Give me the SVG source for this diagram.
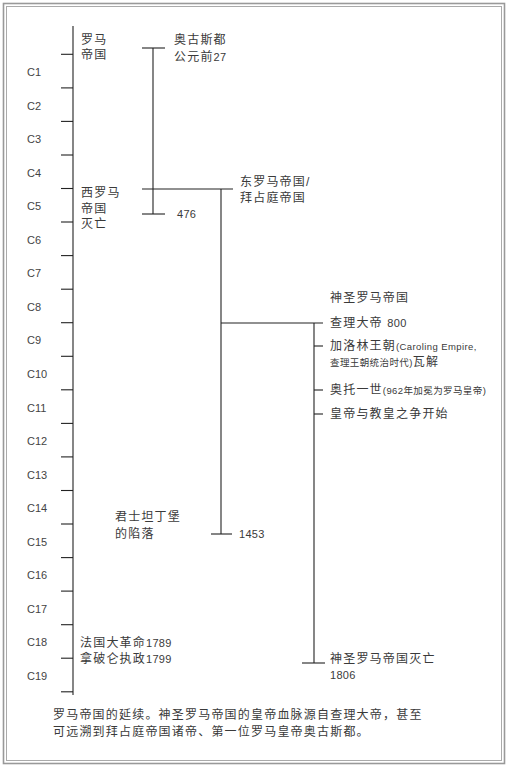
<svg xmlns="http://www.w3.org/2000/svg" width="509" height="768" viewBox="0 0 509 768">
<style>
text{font-family:"Liberation Sans","Noto Sans CJK SC",sans-serif;fill:#3a3a3a;}
.zh{font-size:12px;letter-spacing:1.2px;}
.sm{font-size:9.5px;letter-spacing:0.4px;}
.lat{font-size:11px;letter-spacing:0.3px;}
.c{font-size:11px;fill:#444;}
line{stroke:#222;stroke-width:1.1;}
</style>
<rect x="0" y="0" width="509" height="768" fill="#fff"/>
<rect x="3.5" y="3.5" width="501" height="760" fill="none" stroke="#999" stroke-width="1.6"/>
<rect x="6.5" y="6.5" width="495" height="754" fill="none" stroke="#aaa" stroke-width="1"/>

<g id="axis">
<line x1="73" y1="26" x2="73" y2="695"/>
<line x1="61" y1="54.3" x2="73" y2="54.3"/>
<line x1="61" y1="87.9" x2="73" y2="87.9"/>
<line x1="61" y1="121.4" x2="73" y2="121.4"/>
<line x1="61" y1="155" x2="73" y2="155"/>
<line x1="61" y1="188.5" x2="73" y2="188.5"/>
<line x1="61" y1="222" x2="73" y2="222"/>
<line x1="61" y1="255.6" x2="73" y2="255.6"/>
<line x1="61" y1="289.2" x2="73" y2="289.2"/>
<line x1="61" y1="322.7" x2="73" y2="322.7"/>
<line x1="61" y1="356.3" x2="73" y2="356.3"/>
<line x1="61" y1="389.8" x2="73" y2="389.8"/>
<line x1="61" y1="423.4" x2="73" y2="423.4"/>
<line x1="61" y1="456.9" x2="73" y2="456.9"/>
<line x1="61" y1="490.5" x2="73" y2="490.5"/>
<line x1="61" y1="524" x2="73" y2="524"/>
<line x1="61" y1="557.6" x2="73" y2="557.6"/>
<line x1="61" y1="591.1" x2="73" y2="591.1"/>
<line x1="61" y1="624.7" x2="73" y2="624.7"/>
<line x1="61" y1="658.2" x2="73" y2="658.2"/>
<line x1="61" y1="691.8" x2="73" y2="691.8"/>
<text class="c" x="27" y="76">C1</text>
<text class="c" x="27" y="109.6">C2</text>
<text class="c" x="27" y="143.1">C3</text>
<text class="c" x="27" y="176.7">C4</text>
<text class="c" x="27" y="210.2">C5</text>
<text class="c" x="27" y="243.8">C6</text>
<text class="c" x="27" y="277.3">C7</text>
<text class="c" x="27" y="310.9">C8</text>
<text class="c" x="27" y="344.4">C9</text>
<text class="c" x="27" y="378">C10</text>
<text class="c" x="27" y="411.5">C11</text>
<text class="c" x="27" y="445.1">C12</text>
<text class="c" x="27" y="478.6">C13</text>
<text class="c" x="27" y="512.2">C14</text>
<text class="c" x="27" y="545.7">C15</text>
<text class="c" x="27" y="579.3">C16</text>
<text class="c" x="27" y="612.8">C17</text>
<text class="c" x="27" y="646.4">C18</text>
<text class="c" x="27" y="679.9">C19</text>
</g>

<g id="connectors">
<line x1="153" y1="48" x2="153" y2="214"/>
<line x1="142" y1="48" x2="165" y2="48"/>
<line x1="142" y1="214" x2="165" y2="214"/>
<line x1="142" y1="189" x2="233" y2="189"/>
<line x1="221" y1="189" x2="221" y2="534"/>
<line x1="211" y1="534" x2="232" y2="534"/>
<line x1="221" y1="323" x2="323" y2="323"/>
<line x1="314" y1="323" x2="314" y2="663"/>
<line x1="302" y1="663" x2="325" y2="663"/>
<line x1="314" y1="346" x2="323" y2="346"/>
<line x1="314" y1="390" x2="323" y2="390"/>
<line x1="314" y1="414" x2="323" y2="414"/>
</g>

<g id="roman-empire">
<text class="zh" x="81" y="44">罗马</text>
<text class="zh" x="81" y="59">帝国</text>
</g>
<g id="augustus">
<text class="zh" x="174" y="44">奥古斯都</text>
<text class="zh" x="174" y="61">公元前<tspan class="lat">27</tspan></text>
</g>
<g id="byzantine">
<text class="zh" x="240" y="186">东罗马帝国/</text>
<text class="zh" x="240" y="202">拜占庭帝国</text>
</g>
<g id="west-fall">
<text class="zh" x="81" y="197">西罗马</text>
<text class="zh" x="81" y="213">帝国</text>
<text class="zh" x="81" y="228">灭亡</text>
<text class="lat" x="177" y="218">476</text>
</g>
<g id="holy-roman">
<text class="zh" x="330" y="302">神圣罗马帝国</text>
</g>
<g id="charlemagne">
<text class="zh" x="330" y="327">查理大帝 <tspan class="lat">800</tspan></text>
</g>
<g id="carolingian">
<text class="zh" x="330" y="350">加洛林王朝<tspan class="sm">(Caroling Empire,</tspan></text>
<text class="zh" x="330" y="366"><tspan class="sm">查理王朝统治时代)</tspan>瓦解</text>
</g>
<g id="otto">
<text class="zh" x="330" y="394">奥托一世<tspan class="sm">(962年加冕为罗马皇帝)</tspan></text>
</g>
<g id="investiture">
<text class="zh" x="330" y="418">皇帝与教皇之争开始</text>
</g>
<g id="constantinople">
<text class="zh" x="115" y="521">君士坦丁堡</text>
<text class="zh" x="115" y="538">的陷落</text>
<text class="lat" x="239" y="538">1453</text>
</g>
<g id="french-revolution">
<text class="zh" x="80" y="647">法国大革命<tspan class="lat">1789</tspan></text>
<text class="zh" x="80" y="663">拿破仑执政<tspan class="lat">1799</tspan></text>
</g>
<g id="hre-end">
<text class="zh" x="330" y="663">神圣罗马帝国灭亡</text>
<text class="lat" x="330" y="679">1806</text>
</g>
<g id="caption">
<text class="zh" x="53" y="719" letter-spacing="1">罗马帝国的延续。神圣罗马帝国的皇帝血脉源自查理大帝，甚至</text>
<text class="zh" x="53" y="736" letter-spacing="1">可远溯到拜占庭帝国诸帝、第一位罗马皇帝奥古斯都。</text>
</g>
</svg>
